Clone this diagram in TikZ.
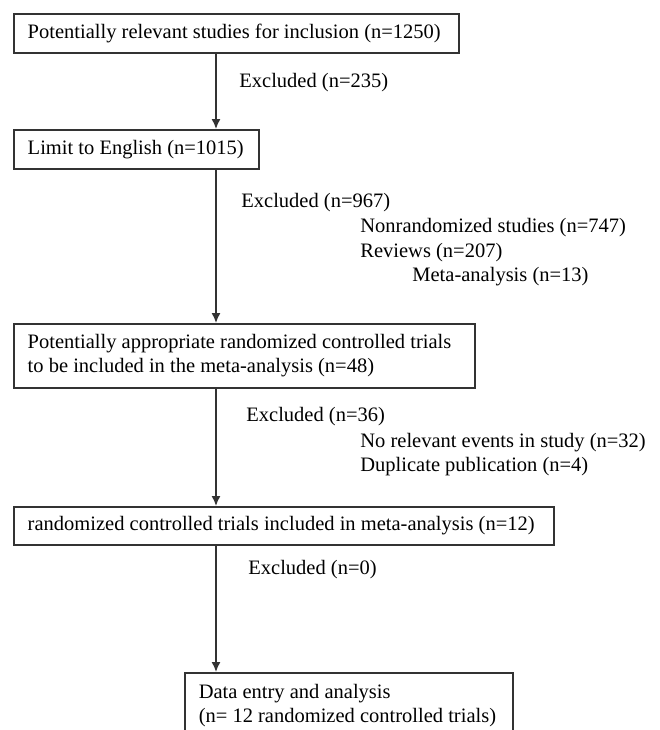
\documentclass[tikz,border=0pt]{standalone}
\usepackage{fontspec}
\setmainfont{Liberation Serif}
\usetikzlibrary{arrows.meta}
\begin{document}
\begin{tikzpicture}[x=0.5pt,y=-0.5pt,>={Latex[length=5pt,width=4.5pt]},
  font=\fontsize{10.25}{12.25}\selectfont,
  box/.style={draw=black!80,line width=0.75pt,anchor=north west,align=flush left,
    inner xsep=7pt,inner ysep=0pt},
  note/.style={anchor=west,inner sep=0pt},
  flow/.style={->,draw=black!80,line width=0.75pt}]
  \useasboundingbox (0,0) rectangle (660,730);
  \coordinate (spine) at (216,0);

  % Boxes down the left
  \node[box,minimum width=222.5pt,minimum height=19.5pt,text width=208.5pt] (found) at (13,13)
  {Potentially relevant studies for inclusion (n=1250)};
  \node[box,minimum width=122.5pt,minimum height=19.5pt,text width=108.5pt] (english) at (13,129)
  {Limit to English (n=1015)};
  \node[box,minimum width=230.5pt,minimum height=32pt,text width=216.5pt] (approp) at (13,323)
  {Potentially appropriate randomized controlled trials\\to be included in the meta-analysis (n=48)};
  \node[box,minimum width=270pt,minimum height=19pt,text width=256pt] (included) at (13,506)
  {randomized controlled trials included in meta-analysis (n=12)};
  \node[box,minimum width=164pt,minimum height=33pt,text width=150pt] (entry) at (184,672)
  {Data entry and analysis\\(n= 12 randomized controlled trials)};

  % Arrows along the spine
  \draw[flow] (found.south -| spine) -- (english.north -| spine);
  \draw[flow] (english.south -| spine) -- (approp.north -| spine);
  \draw[flow] (approp.south -| spine) -- (included.north -| spine);
  \draw[flow] (included.south -| spine) -- (entry.north -| spine);

  % Exclusions
  \node[note] (ex1) at (239,83) {Excluded (n=235)};
  \node[note] (ex2) at (241,203) {Excluded (n=967)};
  \node[note] (nonrand) at (360,228) {Nonrandomized studies (n=747)};
  \node[note] (reviews) at (360,253) {Reviews (n=207)};
  \node[note] (meta) at (412,277) {Meta-analysis (n=13)};
  \node[note] (ex3) at (246,417) {Excluded (n=36)};
  \node[note] (noevent) at (360,443) {No relevant events in study (n=32)};
  \node[note] (dup) at (360,467) {Duplicate publication (n=4)};
  \node[note] (ex4) at (248,570) {Excluded (n=0)};
\end{tikzpicture}
\end{document}
